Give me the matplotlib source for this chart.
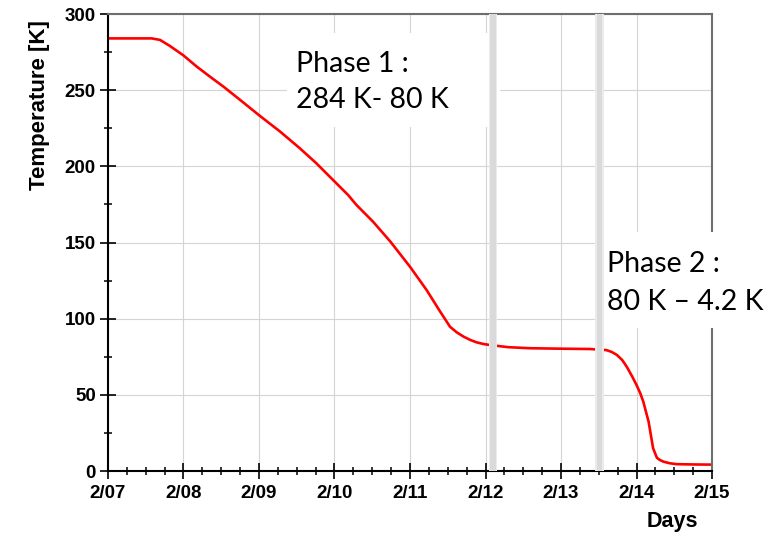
import matplotlib.pyplot as plt
import numpy as np
from matplotlib.patches import Rectangle
from matplotlib.ticker import MultipleLocator

# days since 2/07 00:00 and measured temperature [K]
t_days = [0.0, 0.30, 0.579, 0.689, 0.821, 1.0, 1.175, 1.35, 1.53, 1.75,
          2.01, 2.28, 2.54, 2.76, 2.98, 3.18, 3.29, 3.51, 3.74, 4.0, 4.22,
          4.40, 4.53, 4.62, 4.71, 4.80, 4.88, 4.97, 5.06, 5.30, 5.59, 6.0,
          6.38, 6.60, 6.67, 6.74, 6.81, 6.87, 6.94, 7.0, 7.05, 7.09, 7.16,
          7.22, 7.27, 7.31, 7.36, 7.44, 7.53, 7.75, 8.0]
temp_k = [284.0, 284.0, 284.0, 283.0, 279.0, 272.8, 265.5, 258.9, 252.3,
          243.6, 233.2, 222.8, 211.9, 202.0, 191.1, 181.2, 174.7, 163.7,
          150.6, 134.1, 118.8, 104.6, 94.7, 91.0, 88.2, 86.0, 84.5, 83.4,
          82.7, 81.3, 80.6, 80.3, 80.1, 79.4, 78.2, 76.2, 72.9, 68.5, 62.3,
          56.5, 51.0, 45.5, 32.4, 14.9, 8.7, 7.2, 6.1, 5.1, 4.5, 4.3, 4.2]

day_labels = ['2/07', '2/08', '2/09', '2/10', '2/11', '2/12', '2/13', '2/14', '2/15']
band_days = [5.10, 6.51]   # phase change markers

fig = plt.figure(figsize=(7.73, 5.33), dpi=100)
ax = fig.add_axes([0.1397, 0.1163, 0.7814, 0.8574])

ax.plot(t_days, temp_k, color='#ff0000', lw=1.9, zorder=2.2,
        solid_joinstyle='round')

for b in band_days:
    ax.axvspan(b - 0.058, b + 0.058, color='#ebebeb', lw=0, zorder=4)
    ax.axvspan(b - 0.038, b + 0.038, color='#dadada', lw=0, zorder=4.1)

ax.set_xlim(0, 8)
ax.set_ylim(0, 300)
ax.set_xticks(range(len(day_labels)))
ax.set_xticklabels(day_labels)
ax.xaxis.set_minor_locator(MultipleLocator(0.25))
ax.yaxis.set_major_locator(MultipleLocator(50))
ax.yaxis.set_minor_locator(MultipleLocator(25))

ax.grid(True, which='major', color='#d4d4d4', lw=0.8, zorder=0)
ax.set_axisbelow(True)

ax.tick_params(which='major', direction='inout', length=11.5, width=1.2,
               color='black', labelsize=13.5)
ax.tick_params(which='minor', direction='inout', length=5.5, width=1.1,
               color='black')
ax.tick_params(axis='x', which='major', pad=4.0)
ax.tick_params(axis='y', which='major', pad=3.0)
for lab in ax.get_xticklabels() + ax.get_yticklabels():
    lab.set_fontweight('bold')
    lab.set_family('Liberation Sans')

for side in ['left', 'bottom']:
    ax.spines[side].set_color('black')
    ax.spines[side].set_linewidth(1.5)
for side in ['top', 'right']:
    ax.spines[side].set_color('#6e6e6e')
    ax.spines[side].set_linewidth(1.5)

ax.text(-0.114, 0.987, 'Temperature [K]', transform=ax.transAxes,
        rotation=90, ha='center', va='top', fontsize=16, fontweight='bold',
        family='Liberation Sans')
ax.text(0.934, -0.087, 'Days', transform=ax.transAxes, ha='center',
        va='top', fontsize=15.5, fontweight='bold', family='Liberation Sans')

# white boxes behind the phase notes
ax.add_patch(Rectangle((0.296, 0.753), 0.353, 0.205, transform=ax.transAxes,
                       fc='white', ec='none', zorder=3, clip_on=False))
ax.add_patch(Rectangle((0.811, 0.313), 0.30, 0.21, transform=ax.transAxes,
                       fc='white', ec='none', zorder=3, clip_on=False))

note_kw = dict(transform=ax.transAxes, ha='left', va='baseline',
               fontsize=20.5, family='Lato', zorder=5)
ax.text(0.311, 0.874, 'Phase 1 :', **note_kw)
ax.text(0.311, 0.794, '284 K- 80 K', **note_kw)
ax.text(0.826, 0.436, 'Phase 2 :', **note_kw)
ax.text(0.826, 0.352, '80 K \u2013 4.2 K', **note_kw)

fig.savefig('out.png', dpi=100)
